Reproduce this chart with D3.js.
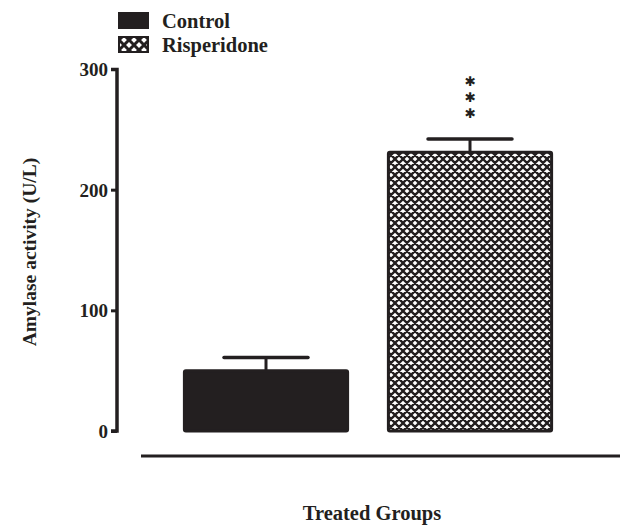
<!DOCTYPE html>
<html><head><meta charset="utf-8">
<script src="https://cdn.jsdelivr.net/npm/d3@7"></script>
<style>body{margin:0;background:#fff}svg{display:block}</style>
</head><body>
<script>
const groups = ["Control", "Risperidone"];
const means = [50, 231];
const errors = [11, 11];
const yTicks = [0, 100, 200, 300];
const significance = ["✱", "✱", "✱"];

const W = 620, H = 525, ink = "#231f20";
const font = "'Liberation Serif', 'Times New Roman', serif";
const svg = d3.select("body").append("svg").attr("width", W).attr("height", H);

const defs = svg.append("defs");
const P = 8;
const pat = defs.append("pattern").attr("id", "xhatch").attr("patternUnits", "userSpaceOnUse")
  .attr("width", P).attr("height", P).attr("x", 387).attr("y", 151);
pat.append("rect").attr("width", P).attr("height", P).attr("fill", "#fff");
pat.append("path").attr("d",
  `M${-P},0 L${P},${2*P} M0,${-P} L${2*P},${P} M${-P},${-P} L${2*P},${2*P} ` +
  `M${-P},${P} L${P},${-P} M${-P},${2*P} L${2*P},${-P} M0,${2*P} L${2*P},0`)
  .attr("stroke", ink).attr("stroke-width", 2.3).attr("fill", "none");

const y = d3.scaleLinear().domain([0, 300]).range([431, 69]);
const x = d3.scaleBand().domain(groups).range([164, 572]).paddingInner(0.2).paddingOuter(0.1);

// y axis
const yAxis = d3.axisLeft(y).tickValues(yTicks).tickSize(6).tickPadding(3).tickFormat(d3.format("d"));
const ga = svg.append("g").attr("transform", "translate(117,0)").call(yAxis);
ga.select(".domain").attr("stroke", ink).attr("stroke-width", 3.5).attr("d", "M-6,69.5H0V431H-6");
ga.selectAll(".tick line").attr("stroke", ink).attr("stroke-width", 3);
ga.selectAll(".tick text").attr("fill", ink).attr("font-family", font).attr("font-weight", "bold").attr("font-size", 19).attr("dy", "0.35em");

// bottom axis line
svg.append("line").attr("x1", 141).attr("x2", 620).attr("y1", 456).attr("y2", 456).attr("stroke", ink).attr("stroke-width", 3);

// error bars
groups.forEach((g, i) => {
  const cx = x(g) + x.bandwidth() / 2;
  svg.append("line").attr("x1", cx).attr("x2", cx).attr("y1", y(means[i])).attr("y2", y(means[i] + errors[i])).attr("stroke", ink).attr("stroke-width", 3);
  svg.append("line").attr("x1", cx - 42).attr("x2", cx + 42).attr("y1", y(means[i] + errors[i])).attr("y2", y(means[i] + errors[i])).attr("stroke", ink).attr("stroke-width", 3.5).attr("stroke-linecap", "round");
});

// bars
svg.selectAll("rect.bar").data(groups).enter().append("rect").attr("class", "bar")
  .attr("x", d => x(d)).attr("width", x.bandwidth())
  .attr("y", (d, i) => y(means[i])).attr("height", (d, i) => y(0) - y(means[i]))
  .attr("rx", 1.5)
  .attr("fill", (d, i) => i === 0 ? ink : "url(#xhatch)")
  .attr("stroke", ink).attr("stroke-width", 3);

// significance stars
const sx = x("Risperidone") + x.bandwidth() / 2;
significance.forEach((s, k) => {
  svg.append("text").attr("x", sx).attr("y", 86 + k * 16).attr("text-anchor", "middle")
    .attr("font-family", "'DejaVu Sans', sans-serif").attr("font-size", 13.5).attr("fill", ink).text(s);
});

// legend
const patL = defs.append("pattern").attr("id", "xhatchL").attr("patternUnits", "userSpaceOnUse")
  .attr("width", 10).attr("height", 10).attr("x", 119).attr("y", 40);
patL.append("rect").attr("width", 10).attr("height", 10).attr("fill", "#fff");
patL.append("path").attr("d", "M-1,-1 L11,11 M11,-1 L-1,11")
  .attr("stroke", ink).attr("stroke-width", 3).attr("fill", "none");
const leg = svg.append("g");
groups.forEach((g, i) => {
  const ly = 13 + i * 24;
  leg.append("rect").attr("x", 119).attr("y", ly).attr("width", 29).attr("height", 15)
    .attr("fill", i === 0 ? ink : "url(#xhatchL)").attr("stroke", ink).attr("stroke-width", 2);
  leg.append("text").attr("x", 162).attr("y", ly + 15).attr("font-family", font).attr("font-weight", "bold")
    .attr("font-size", 20.5).attr("fill", ink).text(g);
});

// axis titles
svg.append("text").attr("transform", "translate(36,252) rotate(-90)").attr("text-anchor", "middle")
  .attr("font-family", font).attr("font-weight", "bold").attr("font-size", 19.5).attr("fill", ink).text("Amylase activity (U/L)");
svg.append("text").attr("x", 372).attr("y", 520).attr("text-anchor", "middle")
  .attr("font-family", font).attr("font-weight", "bold").attr("font-size", 20.5).attr("fill", ink).text("Treated Groups");
</script>
</body></html>
